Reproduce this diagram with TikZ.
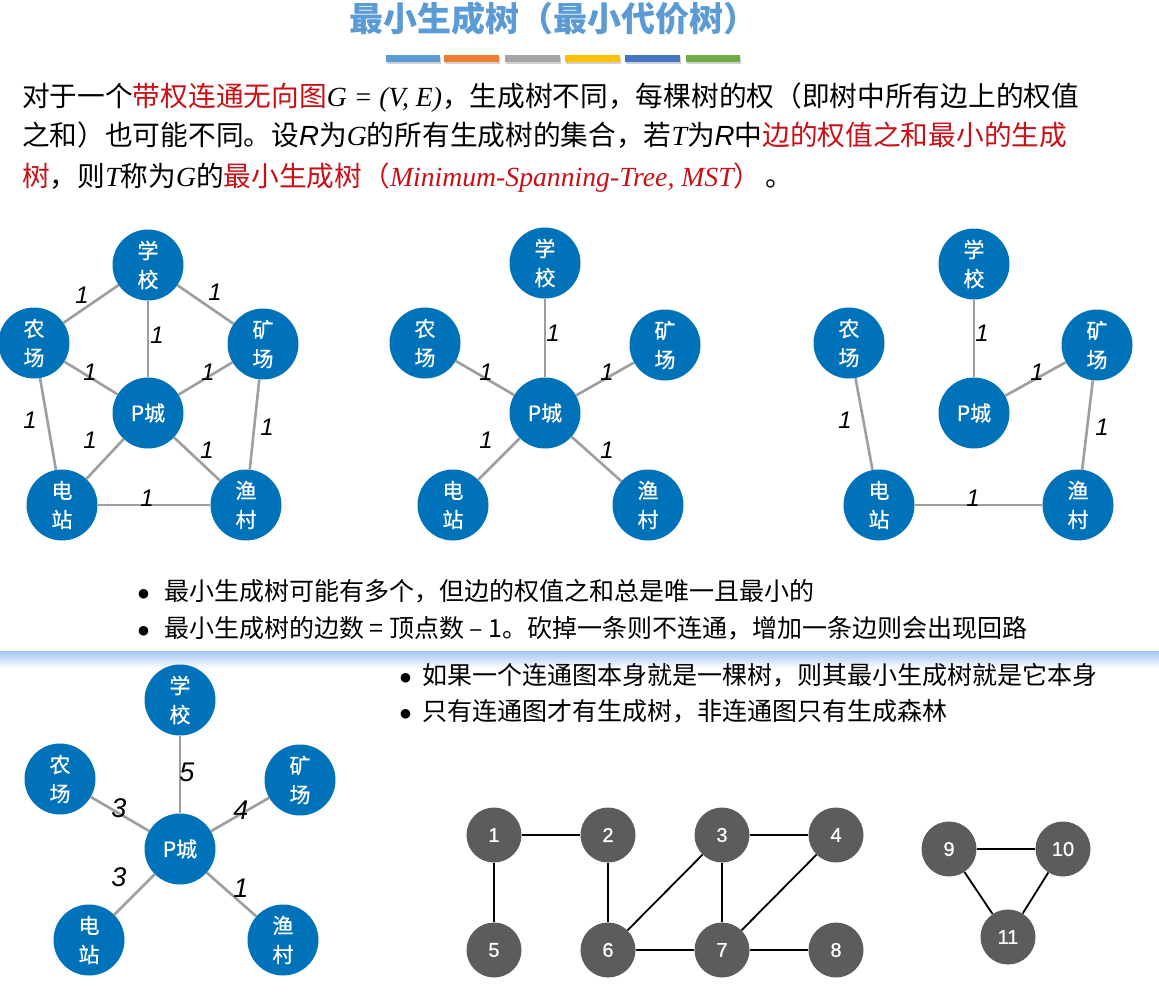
\documentclass[tikz,border=0pt]{standalone}
\usepackage{fontspec}
\setmainfont{Noto Sans CJK SC}
\newfontfamily\nodefont{Noto Sans CJK SC}[FakeBold=0.6]
\newfontfamily\serifit{Liberation Serif}
\newfontfamily\sansit{Liberation Sans}
\newfontfamily\numfont{Liberation Sans}[FakeBold=0.8]
\newfontfamily\dejavu{DejaVu Sans}
\definecolor{titleblue}{RGB}{91,155,213}
\definecolor{barA}{RGB}{91,155,213}
\definecolor{barB}{RGB}{237,125,49}
\definecolor{barC}{RGB}{165,165,165}
\definecolor{barD}{RGB}{255,192,0}
\definecolor{barE}{RGB}{68,114,196}
\definecolor{barF}{RGB}{112,173,71}
\definecolor{hired}{RGB}{200,16,22}
\definecolor{nodeblue}{RGB}{0,114,186}
\definecolor{nodegray}{RGB}{92,92,92}
\definecolor{edgegray}{RGB}{158,158,158}
\definecolor{sepblue}{RGB}{160,196,242}
\newcommand\smi[1]{{\serifit\itshape #1}}
\newcommand\sRi[1]{{\sansit\itshape #1}}
\newcommand\hr[1]{\textcolor{hired}{#1}}
\newcommand\bdot{\raisebox{2.5pt}{\dejavu\fontsize{12.5}{12.5}\selectfont ●}}
\tikzset{
  bnode/.style={circle, fill=nodeblue, text=white, minimum size=71pt, inner sep=0pt, align=center, font=\nodefont\fontsize{21}{29}\selectfont},
  gnode/.style={circle, fill=nodegray, text=white, minimum size=55pt, inner sep=0pt, font=\numfont\fontsize{20}{20}\selectfont},
  bedge/.style={draw=edgegray, line width=2.6pt},
  kedge/.style={draw=black, line width=1.8pt},
  wlab/.style={inner sep=0pt, font=\sansit\itshape\fontsize{24}{24}\selectfont},
  wlabb/.style={inner sep=0pt, font=\sansit\itshape\fontsize{27}{27}\selectfont},
  para/.style={anchor=base west, inner sep=0pt, font=\fontsize{27.7}{33}\selectfont},
  bul/.style={anchor=base west, inner sep=0pt, font=\fontsize{25}{30}\selectfont}
}
\begin{document}
\begin{tikzpicture}[x=1pt,y=-1pt]
\useasboundingbox (0,0) rectangle (1159,998);
\fill[white] (0,0) rectangle (1159,998);
% title
\node[inner sep=0pt, text=titleblue, font=\bfseries\fontsize{34}{40}\selectfont] (title) at (553,19) {最小生成树（最小代价树）};
% colour bars
\foreach \xa/\xb/\c in {386/440/barA, 444/499/barB, 505/560/barC, 565/620/barD, 625/680/barE, 686/740/barF}{
  \fill[black!18] (\xa+1,57) rectangle (\xb+1,64);
  \fill[\c] (\xa,55) rectangle (\xb,62);
}
% paragraph
\node[para] (p1) at (22,106) {对于一个\hr{带权连通无向图}\smi{G = (V, E)}，生成树不同，每棵树的权（即树中所有边上的权值};
\node[para] (p2) at (22,145) {之和）也可能不同。设\sRi{R}为\smi{G}的所有生成树的集合，若\smi{T}为\sRi{R}中\hr{边的权值之和最小的生成}};
\node[para] (p3) at (22,186) {\hr{树}，则\smi{T}称为\smi{G}的\hr{最小生成树（\smi{Minimum-Spanning-Tree, MST}）}\hspace{4pt}。};

% graph 1
\node[bnode] (A1) at (148,265) {学\\校};
\node[bnode] (B1) at (34,343) {农\\场};
\node[bnode] (C1) at (263,344) {矿\\场};
\node[bnode] (P1) at (148,413) {P城};
\node[bnode] (D1) at (62,505) {电\\站};
\node[bnode] (E1) at (246,505) {渔\\村};
\draw[bedge] (A1) -- (B1);
\draw[bedge] (A1) -- (C1);
\draw[bedge] (A1) -- (P1);
\draw[bedge] (B1) -- (P1);
\draw[bedge] (C1) -- (P1);
\draw[bedge] (B1) -- (D1);
\draw[bedge] (C1) -- (E1);
\draw[bedge] (P1) -- (D1);
\draw[bedge] (P1) -- (E1);
\draw[bedge] (D1) -- (E1);
\node[wlab] (l1a) at (82,295) {1};
\node[wlab] (l1b) at (215,292) {1};
\node[wlab] (l1c) at (157,335) {1};
\node[wlab] (l1d) at (90,372) {1};
\node[wlab] (l1e) at (208,372) {1};
\node[wlab] (l1f) at (30,420) {1};
\node[wlab] (l1g) at (267,427) {1};
\node[wlab] (l1h) at (90,440) {1};
\node[wlab] (l1i) at (207,450) {1};
\node[wlab] (l1j) at (147,498) {1};

% graph 2
\node[bnode] (A2) at (545,263) {学\\校};
\node[bnode] (B2) at (425,343) {农\\场};
\node[bnode] (C2) at (665,345) {矿\\场};
\node[bnode] (P2) at (545,413) {P城};
\node[bnode] (D2) at (453,505) {电\\站};
\node[bnode] (E2) at (648,505) {渔\\村};
\draw[bedge] (A2) -- (P2);
\draw[bedge] (B2) -- (P2);
\draw[bedge] (C2) -- (P2);
\draw[bedge] (D2) -- (P2);
\draw[bedge] (E2) -- (P2);
\node[wlab] (l2a) at (553,333) {1};
\node[wlab] (l2b) at (486,372) {1};
\node[wlab] (l2c) at (607,372) {1};
\node[wlab] (l2d) at (486,440) {1};
\node[wlab] (l2e) at (607,450) {1};

% graph 3
\node[bnode] (A3) at (974,264) {学\\校};
\node[bnode] (B3) at (849,343) {农\\场};
\node[bnode] (C3) at (1097,345) {矿\\场};
\node[bnode] (P3) at (974,413) {P城};
\node[bnode] (D3) at (879,505) {电\\站};
\node[bnode] (E3) at (1078,505) {渔\\村};
\draw[bedge] (A3) -- (P3);
\draw[bedge] (P3) -- (C3);
\draw[bedge] (C3) -- (E3);
\draw[bedge] (E3) -- (D3);
\draw[bedge] (D3) -- (B3);
\node[wlab] (l3a) at (982,333) {1};
\node[wlab] (l3b) at (1037,372) {1};
\node[wlab] (l3c) at (1102,427) {1};
\node[wlab] (l3d) at (973,498) {1};
\node[wlab] (l3e) at (845,420) {1};

% bullets 1
\node[bul] (b1) at (138,600) {\bdot\hspace{15pt}最小生成树可能有多个，但边的权值之和总是唯一且最小的};
\node[bul] (b2) at (138,637) {\bdot\hspace{15pt}最小生成树的边数 = 顶点数 – 1。砍掉一条则不连通，增加一条边则会出现回路};

% separator
\shade[top color=sepblue, bottom color=white] (0,651) rectangle (1159,668);

% bullets 2
\node[bul] (b3) at (400,684) {\bdot\hspace{11pt}如果一个连通图本身就是一棵树，则其最小生成树就是它本身};
\node[bul] (b4) at (400,720) {\bdot\hspace{11pt}只有连通图才有生成树，非连通图只有生成森林};

% graph 4
\node[bnode] (A4) at (180,700) {学\\校};
\node[bnode] (B4) at (60,779) {农\\场};
\node[bnode] (C4) at (300,780) {矿\\场};
\node[bnode] (P4) at (180,849) {P城};
\node[bnode] (D4) at (89,940) {电\\站};
\node[bnode] (E4) at (283,940) {渔\\村};
\draw[bedge] (A4) -- (P4);
\draw[bedge] (B4) -- (P4);
\draw[bedge] (C4) -- (P4);
\draw[bedge] (D4) -- (P4);
\draw[bedge] (E4) -- (P4);
\node[wlabb] (l4a) at (187,772) {5};
\node[wlabb] (l4b) at (119,808) {3};
\node[wlabb] (l4c) at (241,810) {4};
\node[wlabb] (l4d) at (119,877) {3};
\node[wlabb] (l4e) at (241,888) {1};

% gray graph
\node[gnode] (n1) at (494,835) {1};
\node[gnode] (n2) at (608,835) {2};
\node[gnode] (n3) at (722,835) {3};
\node[gnode] (n4) at (836,835) {4};
\node[gnode] (n5) at (494,950) {5};
\node[gnode] (n6) at (608,950) {6};
\node[gnode] (n7) at (722,950) {7};
\node[gnode] (n8) at (836,950) {8};
\node[gnode] (n9) at (949,849) {9};
\node[gnode] (n10) at (1063,849) {10};
\node[gnode] (n11) at (1008,937) {11};
\draw[kedge] (n1) -- (n2);
\draw[kedge] (n1) -- (n5);
\draw[kedge] (n2) -- (n6);
\draw[kedge] (n3) -- (n6);
\draw[kedge] (n3) -- (n7);
\draw[kedge] (n3) -- (n4);
\draw[kedge] (n4) -- (n7);
\draw[kedge] (n6) -- (n7);
\draw[kedge] (n7) -- (n8);
\draw[kedge] (n9) -- (n10);
\draw[kedge] (n9) -- (n11);
\draw[kedge] (n10) -- (n11);
\end{tikzpicture}
\end{document}
